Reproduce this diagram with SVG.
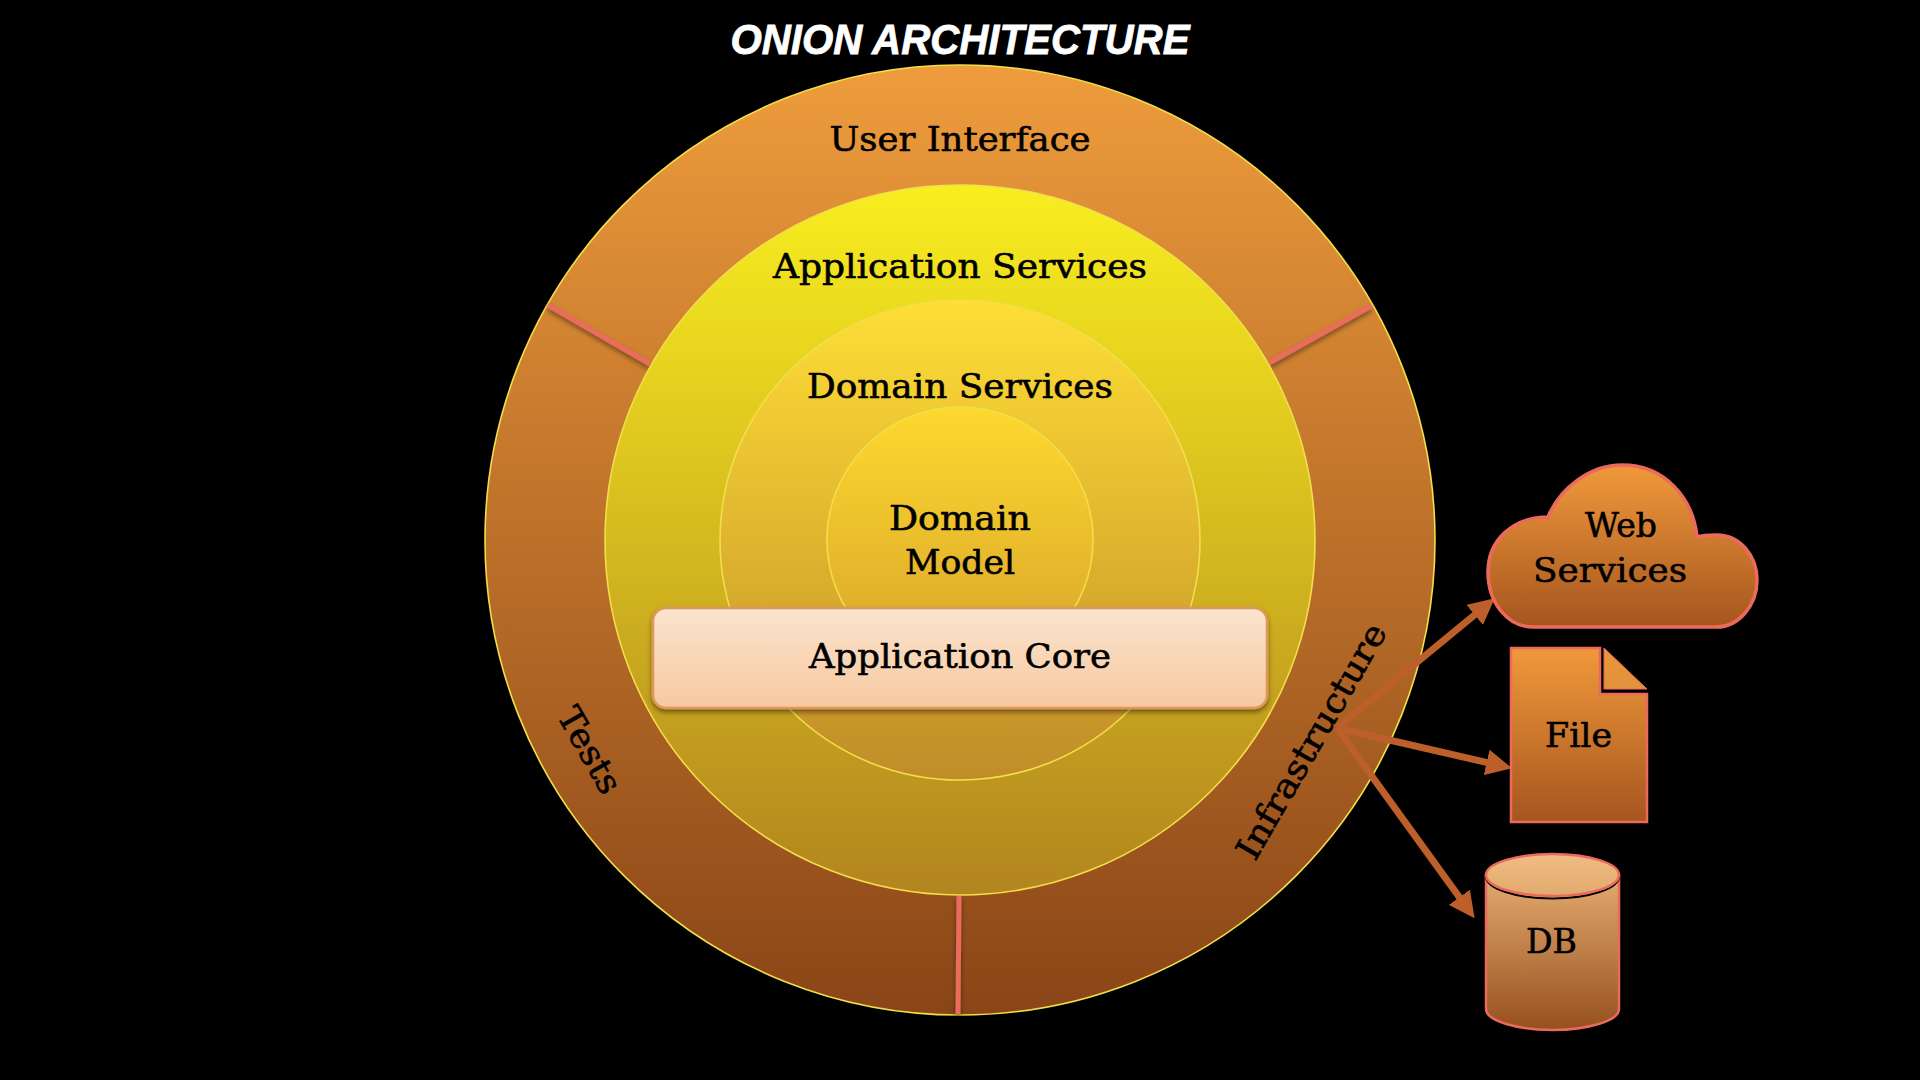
<svg xmlns="http://www.w3.org/2000/svg" width="1920" height="1080" viewBox="0 0 1920 1080">
<style>
.t{font-family:"DejaVu Serif","Liberation Serif",serif;font-size:34px;fill:#000;stroke:#000;stroke-width:0.6;text-anchor:middle}
.ring{stroke:#f2de4b;stroke-width:1.6}
.div{stroke:#e96c5b;stroke-width:5;fill:none;filter:url(#ds)}
.ext{stroke:#ec6a5c;stroke-width:2.5}
.arrow{stroke:#bd5f2a;stroke-width:7;fill:none;marker-end:url(#ah)}
</style>
<defs>
<linearGradient id="gOuter" x1="0" y1="0" x2="0" y2="1"><stop offset="0" stop-color="#ee9c3c"/><stop offset="1" stop-color="#8a4517"/></linearGradient>
<linearGradient id="gApp" x1="0" y1="0" x2="0" y2="1"><stop offset="0" stop-color="#f8ee1f"/><stop offset="1" stop-color="#b2851f"/></linearGradient>
<linearGradient id="gDom" x1="0" y1="0" x2="0" y2="1"><stop offset="0" stop-color="#fede36"/><stop offset="1" stop-color="#c08c28"/></linearGradient>
<linearGradient id="gModel" x1="0" y1="0" x2="0" y2="1"><stop offset="0" stop-color="#fed92f"/><stop offset="1" stop-color="#d8a22a"/></linearGradient>
<linearGradient id="gCore" x1="0" y1="0" x2="0" y2="1"><stop offset="0" stop-color="#fbe4ce"/><stop offset="1" stop-color="#f6c9a0"/></linearGradient>
<linearGradient id="gExt" x1="0" y1="0" x2="0" y2="1"><stop offset="0" stop-color="#f0993b"/><stop offset="1" stop-color="#a6551f"/></linearGradient>
<linearGradient id="gFold" x1="0" y1="0" x2="0" y2="1"><stop offset="0" stop-color="#ea973c"/><stop offset="1" stop-color="#e2903a"/></linearGradient>
<linearGradient id="gDb" x1="0" y1="0" x2="0" y2="1"><stop offset="0" stop-color="#e4ab6f"/><stop offset="1" stop-color="#96501f"/></linearGradient>
<linearGradient id="gDbTop" x1="0" y1="0" x2="0" y2="1"><stop offset="0" stop-color="#efbd85"/><stop offset="1" stop-color="#e2a96c"/></linearGradient>
<filter id="ds" filterUnits="userSpaceOnUse" x="0" y="0" width="1920" height="1080"><feDropShadow dx="0" dy="3" stdDeviation="2.5" flood-color="#000" flood-opacity="0.45"/></filter>
<marker id="ah" markerUnits="userSpaceOnUse" markerWidth="26" markerHeight="26" refX="12" refY="12" orient="auto" viewBox="0 0 24 24"><path d="M0 0L24 12L0 24Z" fill="#bd5f2a"/></marker>
</defs>
<rect width="1920" height="1080" fill="#000"/>
<text id="title" x="960" y="54" font-family="'Liberation Sans',Arial,sans-serif" font-weight="bold" font-style="italic" font-size="42" fill="#fff" stroke="#fff" stroke-width="0.8" text-anchor="middle" textLength="459" lengthAdjust="spacingAndGlyphs">ONION ARCHITECTURE</text>
<g id="outer-ring">
<circle class="ring" cx="960" cy="540" r="475" fill="url(#gOuter)"/>
<line class="div" x1="548" y1="305" x2="650" y2="364"/>
<line class="div" x1="1371" y1="306" x2="1269" y2="363"/>
<line class="div" x1="959" y1="896" x2="958" y2="1014"/>
<text class="t" x="960" y="151" textLength="261" lengthAdjust="spacingAndGlyphs">User Interface</text>
<text class="t" transform="translate(590,750) rotate(60)" x="0" y="12" textLength="94" lengthAdjust="spacingAndGlyphs">Tests</text>
<text class="t" transform="translate(1311,741) rotate(-60)" x="0" y="12" textLength="266" lengthAdjust="spacingAndGlyphs">Infrastructure</text>
</g>
<g id="application-services">
<circle class="ring" cx="960" cy="540" r="355" fill="url(#gApp)"/>
<text class="t" x="960" y="278" textLength="374" lengthAdjust="spacingAndGlyphs">Application Services</text>
</g>
<g id="domain-services">
<circle class="ring" cx="960" cy="540" r="240" fill="url(#gDom)"/>
<text class="t" x="960" y="398" textLength="306" lengthAdjust="spacingAndGlyphs">Domain Services</text>
</g>
<g id="domain-model">
<circle class="ring" cx="960" cy="540" r="133" fill="url(#gModel)"/>
<text class="t" x="960" y="530" textLength="142" lengthAdjust="spacingAndGlyphs">Domain</text>
<text class="t" x="960" y="574" textLength="110" lengthAdjust="spacingAndGlyphs">Model</text>
</g>
<g id="application-core">
<rect x="653" y="608" width="614" height="100" rx="13" fill="url(#gCore)" stroke="#e0985a" stroke-width="2.5" filter="url(#ds)"/>
<text class="t" x="960" y="668" textLength="302" lengthAdjust="spacingAndGlyphs">Application Core</text>
</g>
<g id="connectors">
<line class="arrow" x1="1337" y1="728" x2="1484.7" y2="606.6"/>
<line class="arrow" x1="1337" y1="728" x2="1499.3" y2="765.3"/>
<line class="arrow" x1="1337" y1="728" x2="1467" y2="907.8"/>
</g>
<g id="web-services">
<path fill="url(#gExt)" stroke="#ec6a5c" stroke-width="3.5" d="M1533 627C1507 627 1488 602 1488 572C1488 541 1512 517 1548 517C1560 488 1590 465 1622 465C1665 465 1693 498 1697 537C1703 535 1710 535 1717 535C1740 535 1757 556 1757 580C1757 606 1738 627 1717 627Z"/>
<text class="t" x="1621" y="537" textLength="72" lengthAdjust="spacingAndGlyphs">Web</text>
<text class="t" x="1610" y="582" textLength="154" lengthAdjust="spacingAndGlyphs">Services</text>
</g>
<g id="file">
<path class="ext" fill="url(#gExt)" d="M1511 648H1600V694H1647V822H1511Z"/>
<path fill="url(#gFold)" stroke="#ec6a5c" stroke-width="1" d="M1604 648L1647 689H1604Z"/>
<text class="t" x="1578.500" y="747" textLength="67" lengthAdjust="spacingAndGlyphs">File</text>
</g>
<g id="db">
<path class="ext" fill="url(#gDb)" d="M1486 875V1009C1486 1021 1518 1030 1552.500 1030C1587 1030 1619 1021 1619 1009V875Z"/>
<ellipse cx="1552.500" cy="876.500" rx="66.500" ry="22" fill="none" stroke="#000" stroke-width="2"/>
<ellipse cx="1552.500" cy="875" rx="66.500" ry="21" fill="url(#gDbTop)" stroke="#ec6a5c" stroke-width="2.500"/>
<text class="t" x="1551.500" y="953" textLength="51" lengthAdjust="spacingAndGlyphs">DB</text>
</g>
</svg>
